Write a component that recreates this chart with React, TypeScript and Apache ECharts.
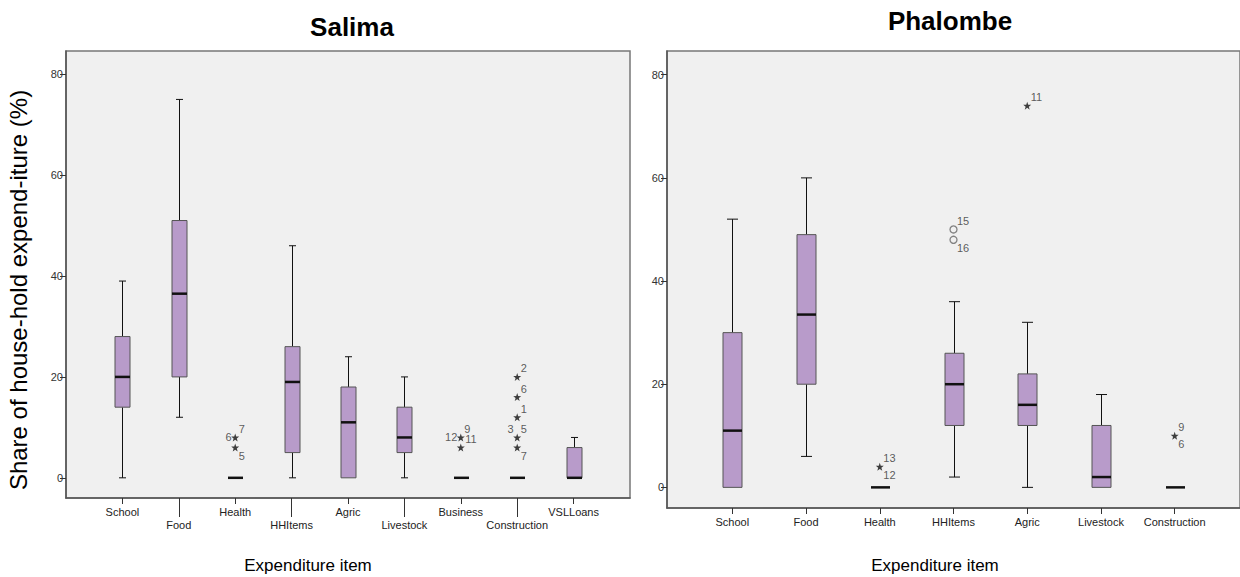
import React, { useEffect, useRef } from "react";
import * as echarts from "echarts";

// ---------- DATA ----------
const salimaCategories = ["School", "Food", "Health", "HHItems", "Agric", "Livestock", "Business", "Construction", "VSLLoans"];
const salimaMin = [0, 12, 0, 0, 0, 0, 0, 0, 0];
const salimaQ1 = [14, 20, 0, 5, 0, 5, 0, 0, 0];
const salimaMedian = [20, 36.5, 0, 19, 11, 8, 0, 0, 0];
const salimaQ3 = [28, 51, 0, 26, 18, 14, 0, 0, 6];
const salimaMax = [39, 75, 0, 46, 24, 20, 0, 0, 8];
// extreme values (stars): [category index, value]
const salimaExtremes = [[2, 8], [2, 6], [6, 8], [6, 6], [7, 20], [7, 16], [7, 12], [7, 8], [7, 6]];
const salimaExtremeCases = [["6", "7"], ["5"], ["12", "9", "11"], [], ["2"], ["6"], ["1"], ["3", "5"], ["7"]];

const phalombeCategories = ["School", "Food", "Health", "HHItems", "Agric", "Livestock", "Construction"];
const phalombeMin = [0, 6, 0, 2, 0, 0, 0];
const phalombeQ1 = [0, 20, 0, 12, 12, 0, 0];
const phalombeMedian = [11, 33.5, 0, 20, 16, 2, 0];
const phalombeQ3 = [30, 49, 0, 26, 22, 12, 0];
const phalombeMax = [52, 60, 0, 36, 32, 18, 0];
// outliers (circles)
const phalombeOutliers = [[3, 50], [3, 48]];
const phalombeOutlierCases = [["15"], ["16"]];
// extremes (stars)
const phalombeExtremes = [[2, 4], [4, 74], [6, 10]];
const phalombeExtremeCases = [["13", "12"], ["11"], ["9", "6"]];

const yTicks = [0, 20, 40, 60, 80];

// ---------- STYLE ----------
const salimaExtremePlace = [["left", "topRight"], ["bottomRight"], ["left", "topRight", "right"], [], ["topRight"], ["topRight"], ["topRight"], ["topLeft", "topRight"], ["bottomRight"]];
const phalombeOutlierPlace = [["topRight"], ["bottomRight"]];
const phalombeExtremePlace = [["topRight", "bottomRight"], ["topRight"], ["topRight", "bottomRight"]];

const FONT = "'Liberation Sans', Arial, Helvetica, sans-serif";
const BOX_FILL = "#B89BCA";
const STAR = "path://M50 0 L61.76 33.82 L97.55 34.55 L69.02 56.18 L79.39 90.45 L50 70 L20.61 90.45 L30.98 56.18 L2.45 34.55 L38.24 33.82 Z";

const placeCfg: Record<string, any> = {
  topRight: { position: [4, -8], align: "left" },
  bottomRight: { position: [4, 9], align: "left" },
  right: { position: [5, 2], align: "left" },
  left: { position: [-3, 0], align: "right" },
  topLeft: { position: [-3, -8], align: "right" },
};

function labelItems(points: number[][], cases: string[][], places: string[][]) {
  const out: any[] = [];
  points.forEach((p, i) => {
    cases[i].forEach((c, j) => {
      const cfg = placeCfg[places[i][j]];
      out.push({
        value: p,
        label: {
          show: true,
          formatter: c,
          position: cfg.position,
          align: cfg.align,
          verticalAlign: "middle",
          fontSize: 11,
          fontFamily: FONT,
          color: "#333",
        },
      });
    });
  });
  return out;
}

function makeRender(boxW: number, capW: number) {
  return (params: any, api: any) => {
    const x = api.value(0);
    const mn = api.value(1), q1 = api.value(2), md = api.value(3), q3 = api.value(4), mx = api.value(5);
    const pMin = api.coord([x, mn]);
    const pQ1 = api.coord([x, q1]);
    const pMd = api.coord([x, md]);
    const pQ3 = api.coord([x, q3]);
    const pMx = api.coord([x, mx]);
    const cx = Math.round(pMd[0]) + 0.5;
    const line = (x1: number, y1: number, x2: number, y2: number, w = 1) => ({
      type: "line",
      shape: { x1, y1, x2, y2 },
      style: { stroke: "#111", lineWidth: w },
    });
    const children: any[] = [];
    if (mx > q3) {
      children.push(line(cx, pMx[1], cx, pQ3[1]));
      children.push(line(cx - capW / 2, pMx[1], cx + capW / 2, pMx[1]));
    }
    if (mn < q1) {
      children.push(line(cx, pQ1[1], cx, pMin[1]));
      children.push(line(cx - capW / 2, pMin[1], cx + capW / 2, pMin[1]));
    }
    if (q3 > q1) {
      children.push({
        type: "rect",
        shape: { x: cx - boxW / 2, y: pQ3[1], width: boxW, height: pQ1[1] - pQ3[1] },
        style: { fill: BOX_FILL, stroke: "#555", lineWidth: 1 },
      });
    }
    children.push(line(cx - boxW / 2, pMd[1], cx + boxW / 2, pMd[1], 2.5));
    return { type: "group", children };
  };
}

function xAxisDef(gridIndex: number, cats: string[], idx: number[], min: number, max: number, tickLen: number, margin: number, showLine: boolean) {
  return {
    type: "value",
    gridIndex,
    min,
    max,
    position: "bottom",
    splitLine: { show: false },
    axisLine: { show: showLine, onZero: false, lineStyle: { color: "#555", width: 1.5 } },
    axisTick: { show: true, customValues: idx, length: tickLen, lineStyle: { color: "#333", width: 1 } },
    axisLabel: {
      show: true,
      customValues: idx,
      formatter: (v: number) => cats[Math.round(v)] ?? "",
      fontSize: 11,
      fontFamily: FONT,
      color: "#222",
      margin,
    },
  };
}

function yAxisDef(gridIndex: number) {
  return {
    type: "value",
    gridIndex,
    min: -4,
    max: 84.6,
    splitLine: { show: false },
    axisLine: { show: true, onZero: false, lineStyle: { color: "#555", width: 1.5 } },
    axisTick: { show: true, customValues: yTicks, length: 6, lineStyle: { color: "#333", width: 1 } },
    axisLabel: { show: true, customValues: yTicks, fontSize: 11, fontFamily: FONT, color: "#333", margin: 3 },
  };
}

export default function App() {
  const ref = useRef<HTMLDivElement>(null);
  useEffect(() => {
    if (!ref.current) return;
    const chart = echarts.init(ref.current, undefined, { renderer: "svg" });
    const sIdx = salimaCategories.map((_, i) => i);
    const pIdx = phalombeCategories.map((_, i) => i);
    const option: any = {
      animation: false,
      backgroundColor: "#ffffff",
      grid: [
        { left: 66, top: 51, width: 564, height: 447, show: true, backgroundColor: "#F0F0F0", borderColor: "#777", borderWidth: 1.5 },
        { left: 667, top: 51, width: 579, height: 457, show: true, backgroundColor: "#F0F0F0", borderColor: "#777", borderWidth: 1.5 },
      ],
      xAxis: [
        xAxisDef(0, salimaCategories, sIdx.filter((i) => i % 2 === 0), -1, 9, 6, 8, true),
        xAxisDef(0, salimaCategories, sIdx.filter((i) => i % 2 === 1), -1, 9, 19, 21, false),
        xAxisDef(1, phalombeCategories, pIdx, -0.886, 6.886, 6, 8, true),
      ],
      yAxis: [yAxisDef(0), yAxisDef(1)],
      series: [
        {
          type: "custom",
          xAxisIndex: 0,
          yAxisIndex: 0,
          renderItem: makeRender(15, 7),
          encode: { x: 0, y: [1, 2, 3, 4, 5] },
          data: salimaCategories.map((_, i) => [i, salimaMin[i], salimaQ1[i], salimaMedian[i], salimaQ3[i], salimaMax[i]]),
          z: 3,
        },
        {
          type: "custom",
          xAxisIndex: 2,
          yAxisIndex: 1,
          renderItem: makeRender(19, 11),
          encode: { x: 0, y: [1, 2, 3, 4, 5] },
          data: phalombeCategories.map((_, i) => [i, phalombeMin[i], phalombeQ1[i], phalombeMedian[i], phalombeQ3[i], phalombeMax[i]]),
          z: 3,
        },
        {
          type: "scatter",
          xAxisIndex: 0,
          yAxisIndex: 0,
          symbol: STAR,
          symbolSize: 8,
          itemStyle: { color: "#111" },
          data: salimaExtremes,
          z: 4,
        },
        {
          type: "scatter",
          xAxisIndex: 2,
          yAxisIndex: 1,
          symbol: STAR,
          symbolSize: 8,
          itemStyle: { color: "#111" },
          data: phalombeExtremes,
          z: 4,
        },
        {
          type: "scatter",
          xAxisIndex: 2,
          yAxisIndex: 1,
          symbol: "circle",
          symbolSize: 7,
          itemStyle: { color: "rgba(0,0,0,0)", borderColor: "#666", borderWidth: 1.3 },
          data: phalombeOutliers,
          z: 4,
        },
        {
          type: "scatter",
          xAxisIndex: 0,
          yAxisIndex: 0,
          symbolSize: 1,
          itemStyle: { color: "rgba(0,0,0,0)" },
          data: labelItems(salimaExtremes, salimaExtremeCases, salimaExtremePlace),
          z: 5,
        },
        {
          type: "scatter",
          xAxisIndex: 2,
          yAxisIndex: 1,
          symbolSize: 1,
          itemStyle: { color: "rgba(0,0,0,0)" },
          data: [
            ...labelItems(phalombeExtremes, phalombeExtremeCases, phalombeExtremePlace),
            ...labelItems(phalombeOutliers, phalombeOutlierCases, phalombeOutlierPlace),
          ],
          z: 5,
        },
      ],
      graphic: [
        { type: "text", x: 352, y: 27, style: { text: "Salima", font: `bold 26px ${FONT}`, fill: "#000", textAlign: "center", textVerticalAlign: "middle" } },
        { type: "text", x: 950, y: 21, style: { text: "Phalombe", font: `bold 26px ${FONT}`, fill: "#000", textAlign: "center", textVerticalAlign: "middle" } },
        { type: "text", x: 18, y: 290, rotation: Math.PI / 2, style: { text: "Share of house-hold expend-iture (%)", font: `24px ${FONT}`, fill: "#000", textAlign: "center", textVerticalAlign: "middle" } },
        { type: "text", x: 308, y: 565, style: { text: "Expenditure item", font: `17px ${FONT}`, fill: "#000", textAlign: "center", textVerticalAlign: "middle" } },
        { type: "text", x: 935, y: 565, style: { text: "Expenditure item", font: `17px ${FONT}`, fill: "#000", textAlign: "center", textVerticalAlign: "middle" } },
      ],
    };
    chart.setOption(option);
    return () => chart.dispose();
  }, []);
  return <div ref={ref} style={{ position: "fixed", left: 0, top: 0, width: 1240, height: 577 }} />;
}
